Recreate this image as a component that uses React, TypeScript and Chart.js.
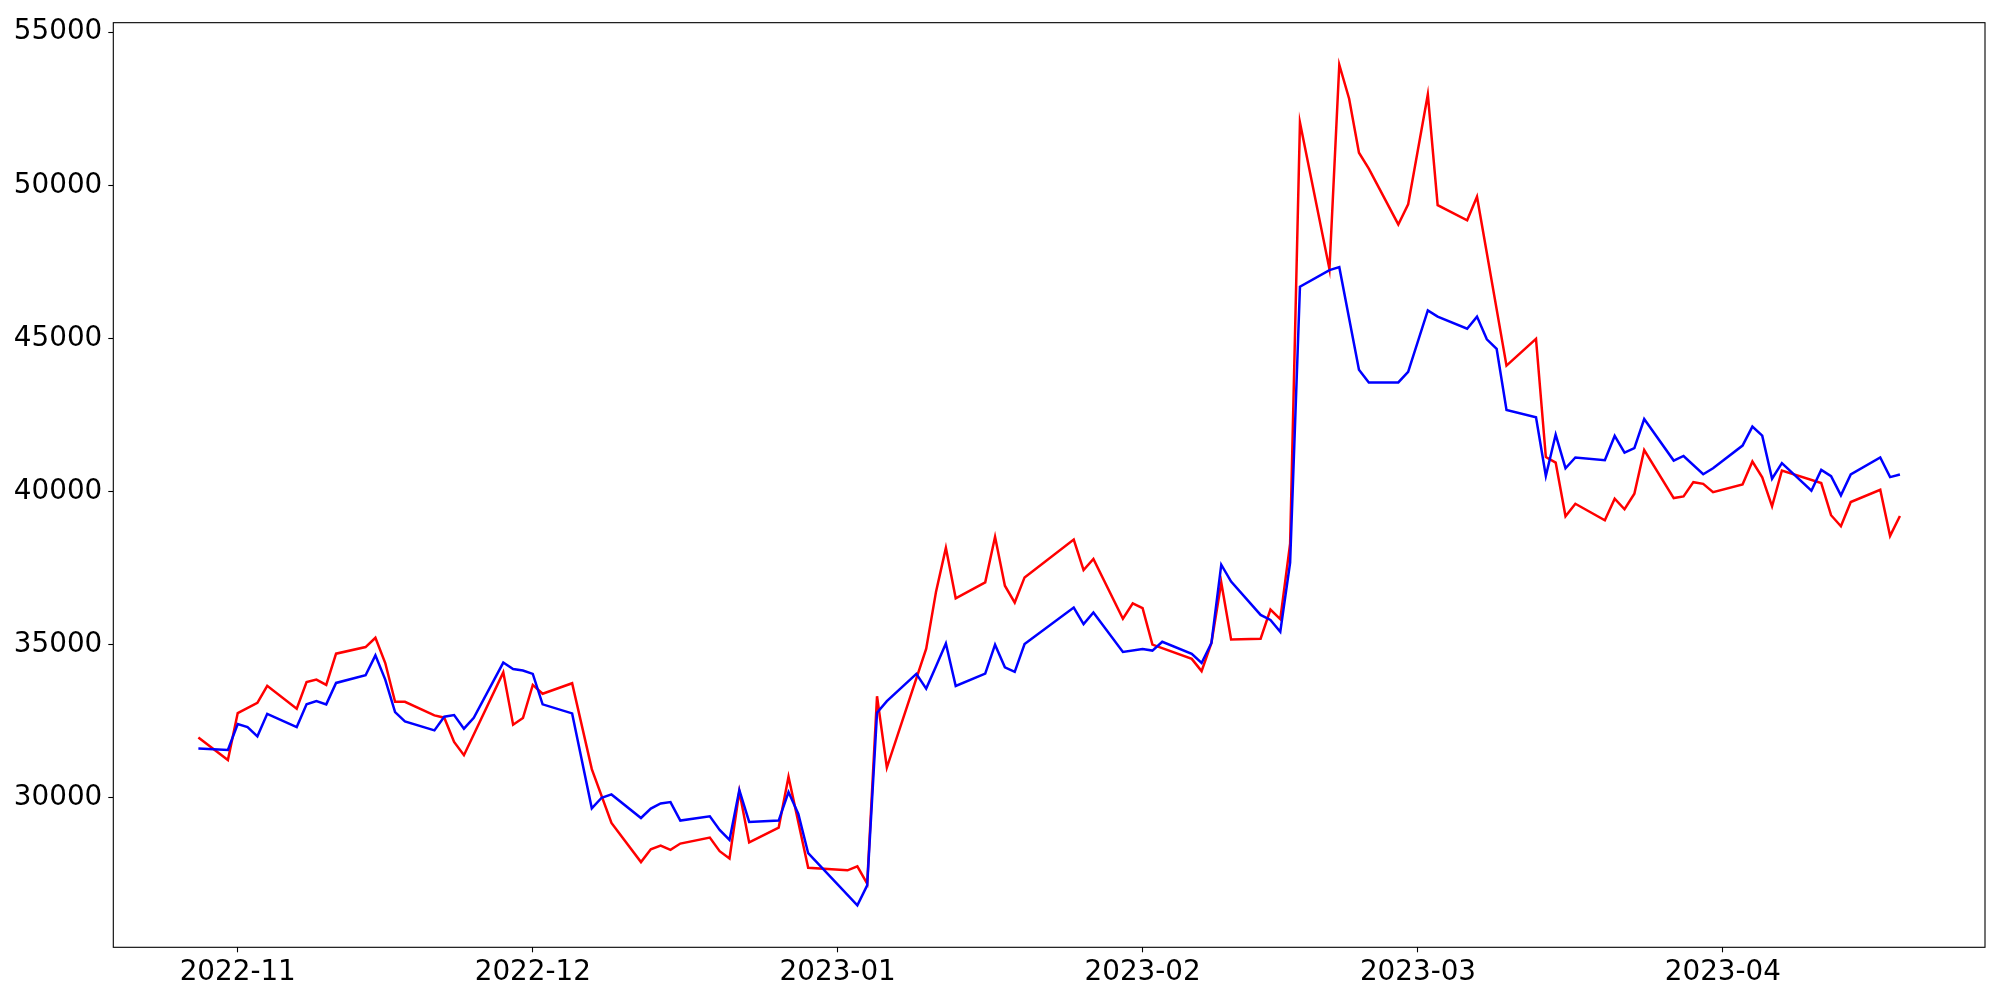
import React, { useEffect, useRef } from "react";
import { Chart, registerables } from "chart.js";

Chart.register(...registerables);

const DATES = [
  "2022-10-28", "2022-10-31",
  "2022-11-01", "2022-11-02", "2022-11-03", "2022-11-04",
  "2022-11-07", "2022-11-08", "2022-11-09", "2022-11-10", "2022-11-11",
  "2022-11-14", "2022-11-15", "2022-11-16", "2022-11-17", "2022-11-18",
  "2022-11-21", "2022-11-22", "2022-11-23", "2022-11-24", "2022-11-25",
  "2022-11-28", "2022-11-29", "2022-11-30", "2022-12-01", "2022-12-02",
  "2022-12-05", "2022-12-06", "2022-12-07", "2022-12-08", "2022-12-09",
  "2022-12-12", "2022-12-13", "2022-12-14", "2022-12-15", "2022-12-16",
  "2022-12-19", "2022-12-20", "2022-12-21", "2022-12-22", "2022-12-23",
  "2022-12-26", "2022-12-27", "2022-12-28", "2022-12-29",
  "2023-01-02", "2023-01-03", "2023-01-04", "2023-01-05", "2023-01-06",
  "2023-01-09", "2023-01-10", "2023-01-11", "2023-01-12", "2023-01-13",
  "2023-01-16", "2023-01-17", "2023-01-18", "2023-01-19", "2023-01-20",
  "2023-01-25", "2023-01-26", "2023-01-27",
  "2023-01-30", "2023-01-31", "2023-02-01", "2023-02-02", "2023-02-03",
  "2023-02-06", "2023-02-07", "2023-02-08", "2023-02-09", "2023-02-10",
  "2023-02-13", "2023-02-14", "2023-02-15", "2023-02-16", "2023-02-17",
  "2023-02-20", "2023-02-21", "2023-02-22", "2023-02-23", "2023-02-24",
  "2023-02-27", "2023-02-28", "2023-03-02", "2023-03-03",
  "2023-03-06", "2023-03-07", "2023-03-08", "2023-03-09", "2023-03-10",
  "2023-03-13", "2023-03-14", "2023-03-15", "2023-03-16", "2023-03-17",
  "2023-03-20", "2023-03-21", "2023-03-22", "2023-03-23", "2023-03-24",
  "2023-03-27", "2023-03-28", "2023-03-29", "2023-03-30", "2023-03-31",
  "2023-04-03", "2023-04-04", "2023-04-05", "2023-04-06", "2023-04-07",
  "2023-04-10", "2023-04-11", "2023-04-12", "2023-04-13", "2023-04-14",
  "2023-04-17", "2023-04-18", "2023-04-19",
];

const RED_VALUES: (number | null)[] = [
  31970, 31240,
  32770, null, 33105, 33660,
  32910, 33780, 33865, 33690, 34710,
  34925, 35230, 34405, 33140, 33140,
  32695, 32620, 31830, 31395, null,
  34100, 32390, 32610, 33690, 33400,
  33745, null, 30940, null, 29185,
  27905, 28325, 28445, 28305, 28510,
  28705, 28260, 28025, 30210, 28545,
  29030, 30690, null, 27720,
  27635, 27765, 27200, 33320, 30990,
  null, 34875, 36735, 38165, 36520,
  37040, 38525, 36930, 36380, 37200,
  38435, 37440, 37800,
  35850, 36355, 36195, 35005, null,
  34540, 34140, 35060, 37035, 35175,
  35200, 36150, 35840, 38300, 52050,
  47265, 53940, 52830, 51065, 50545,
  48725, 49380, 52970, 49355,
  48860, 49630, null, null, 44115,
  44990, 41130, 40950, 39195, 39605,
  39065, 39770, 39425, 39930, 41360,
  39790, 39845, 40310, 40255, 39985,
  40235, 40985, 40465, 39520, 40690,
  null, 40280, 39230, 38870, 39660,
  40060, 38555, 39205,
];

const BLUE_VALUES: (number | null)[] = [
  31610, 31565,
  32410, 32315, 32010, 32745,
  32315, 33055, 33160, 33055, 33755,
  34005, 34655, 33865, 32800, 32500,
  32205, 32650, 32705, 32260, 32615,
  34420, 34210, 34160, 34050, 33055,
  32760, null, 29660, 30005, 30115,
  29345, 29650, 29820, 29865, 29260,
  29400, 28955, 28630, 30255, 29215,
  29260, 30190, 29475, 28195,
  null, 26495, 27145, 32780, 33160,
  34050, 33570, 34300, 35045, 33655,
  34060, 35005, 34265, 34115, 35025,
  36215, 35675, 36055,
  34765, null, 34860, 34810, 35100,
  34705, 34405, 35060, 37615, 37065,
  35975, 35810, 35425, 37685, 46690,
  47235, 47330, null, 43980, 43565,
  43565, 43910, 45920, 45715,
  45320, 45715, 44975, 44660, 42670,
  42430, 40510, 41865, 40765, 41115,
  41025, 41820, 41275, 41420, 42370,
  41015, 41165, null, 40570, 40765,
  41505, 42125, 41830, 40420, 40930,
  40030, 40710, 40505, 39880, 40560,
  41115, 40475, 40560,
];

const MONTH_TICK_DATES = ["2022-11-01", "2022-12-01", "2023-01-01", "2023-02-01", "2023-03-01", "2023-04-01"];
const MONTH_TICK_LABELS = ["2022-11", "2022-12", "2023-01", "2023-02", "2023-03", "2023-04"];
const Y_TICKS = [30000, 35000, 40000, 45000, 50000, 55000];

const dayNum = (s: string) => {
  const [y, m, d] = s.split("-").map(Number);
  return Date.UTC(y, m - 1, d) / 86400000;
};

const FONT = { family: "'DejaVu Sans', sans-serif", size: 27.8 };

const framePlugin = {
  id: "frame",
  afterDraw(chart: any) {
    const { ctx, chartArea: a } = chart;
    ctx.save();
    ctx.strokeStyle = "#000";
    ctx.lineWidth = 1.1;
    ctx.strokeRect(a.left, a.top, a.right - a.left, a.bottom - a.top);
    ctx.restore();
  },
};

export default function App() {
  const ref = useRef<HTMLCanvasElement>(null);

  useEffect(() => {
    document.body.style.margin = "0";
    const xs = DATES.map(dayNum);
    const toPts = (vals: (number | null)[]) => xs.map((x, i) => ({ x, y: vals[i] }));

    const allVals = [...RED_VALUES, ...BLUE_VALUES].filter((v) => v !== null) as number[];
    const yMinD = Math.min(...allVals);
    const yMaxD = Math.max(...allVals);
    const yPad = (yMaxD - yMinD) * 0.05;
    const xMinD = Math.min(...xs);
    const xMaxD = Math.max(...xs);
    const xPad = (xMaxD - xMinD) * 0.05;
    const monthVals = MONTH_TICK_DATES.map(dayNum);

    const chart = new Chart(ref.current!, {
      type: "line",
      data: {
        datasets: [
          {
            label: "red",
            data: toPts(RED_VALUES) as any,
            borderColor: "#ff0000",
            borderWidth: 2.5,
            pointRadius: 0,
            tension: 0,
            spanGaps: true,
            fill: false,
            order: 2,
          },
          {
            label: "blue",
            data: toPts(BLUE_VALUES) as any,
            borderColor: "#0000ff",
            borderWidth: 2.5,
            pointRadius: 0,
            tension: 0,
            spanGaps: true,
            fill: false,
            order: 1,
          },
        ],
      },
      options: {
        responsive: false,
        devicePixelRatio: 1,
        animation: false,
        layout: { padding: { top: 19.3, right: 15, left: 0, bottom: 0 } },
        plugins: { legend: { display: false }, tooltip: { enabled: false }, title: { display: false } },
        scales: {
          x: {
            type: "linear",
            min: xMinD - xPad,
            max: xMaxD + xPad,
            afterBuildTicks: (s: any) => {
              s.ticks = monthVals.map((v) => ({ value: v }));
            },
            afterFit: (s: any) => {
              s.height = 52.7;
            },
            ticks: {
              autoSkip: false,
              maxRotation: 0,
              color: "#000",
              font: FONT,
              padding: 4,
              callback: (_v: any, i: number) => MONTH_TICK_LABELS[i],
            },
            grid: { drawOnChartArea: false, drawTicks: true, tickLength: 5, tickColor: "#000", tickWidth: 1.1 },
            border: { display: false },
          },
          y: {
            type: "linear",
            min: yMinD - yPad,
            max: yMaxD + yPad,
            afterBuildTicks: (s: any) => {
              s.ticks = Y_TICKS.map((v) => ({ value: v }));
            },
            afterFit: (s: any) => {
              s.width = 113.3;
            },
            ticks: {
              color: "#000",
              font: FONT,
              padding: 6,
              callback: (v: any) => String(v),
            },
            grid: { drawOnChartArea: false, drawTicks: true, tickLength: 5, tickColor: "#000", tickWidth: 1.1 },
            border: { display: false },
          },
        },
      },
      plugins: [framePlugin],
    });
    return () => chart.destroy();
  }, []);

  return (
    <div style={{ position: "absolute", left: 0, top: 0, width: 2000, height: 1000, background: "#fff" }}>
      <canvas ref={ref} width={2000} height={1000} style={{ width: 2000, height: 1000, display: "block" }} />
    </div>
  );
}
